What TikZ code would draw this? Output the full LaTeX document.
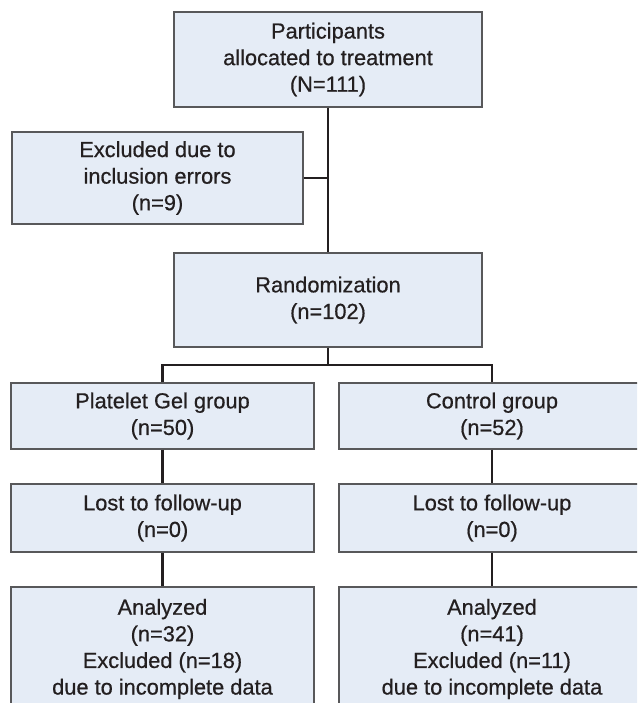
\documentclass[tikz,border=0pt]{standalone}
\usepackage{fontspec}
\setmainfont{Liberation Sans}[FakeBold=0.6]
\definecolor{boxfill}{RGB}{229,236,246}
\definecolor{boxline}{RGB}{88,88,90}
\definecolor{connc}{RGB}{35,31,32}
\definecolor{txt}{RGB}{35,31,32}
\begin{document}
\begin{tikzpicture}[x=1pt,y=-1pt,
  box/.style={draw=boxline, line width=1.2pt, fill=boxfill, text=txt, align=center,
    inner sep=0pt, font=\fontsize{21.8}{26.6}\selectfont},
  conn/.style={draw=connc, line width=2.7pt}]
\useasboundingbox (0,0) rectangle (637,703);
\clip (0,0) rectangle (637,703);
\node[box, minimum width=308pt, minimum height=95pt] (top) at (328,59.5)
  {Participants\\allocated to treatment\\(N=111)};
\node[box, minimum width=291pt, minimum height=92pt] (excl) at (157.5,178)
  {Excluded due to\\inclusion errors\\(n=9)};
\node[box, minimum width=308pt, minimum height=94pt] (rand) at (328,300)
  {Randomization\\(n=102)};
\node[box, minimum width=303pt, minimum height=66pt] (pg) at (162.5,416)
  {Platelet Gel group\\(n=50)};
\node[box, minimum width=306pt, minimum height=66pt] (cg) at (492,416)
  {Control group\\(n=52)};
\node[box, minimum width=303pt, minimum height=68pt] (lpg) at (162.5,518)
  {Lost to follow-up\\(n=0)};
\node[box, minimum width=306pt, minimum height=68pt] (lcg) at (492,518)
  {Lost to follow-up\\(n=0)};
\node[box, minimum width=303pt, minimum height=124pt] (apg) at (162.5,649)
  {Analyzed\\(n=32)\\Excluded (n=18)\\due to incomplete data};
\node[box, minimum width=306pt, minimum height=124pt] (acg) at (492,649)
  {Analyzed\\(n=41)\\Excluded (n=11)\\due to incomplete data};
\coordinate (split) at (328,365);
\draw[conn] (top.south) -- (rand.north);
\draw[conn] (excl.east) -- (excl.east -| top.south);
\draw[conn] (rand.south) -- (split);
\draw[conn] (pg.north) |- (split) -| (cg.north);
\draw[conn] (pg.south) -- (lpg.north);
\draw[conn] (cg.south) -- (lcg.north);
\draw[conn] (lpg.south) -- (apg.north);
\draw[conn] (lcg.south) -- (acg.north);
\end{tikzpicture}
\end{document}
